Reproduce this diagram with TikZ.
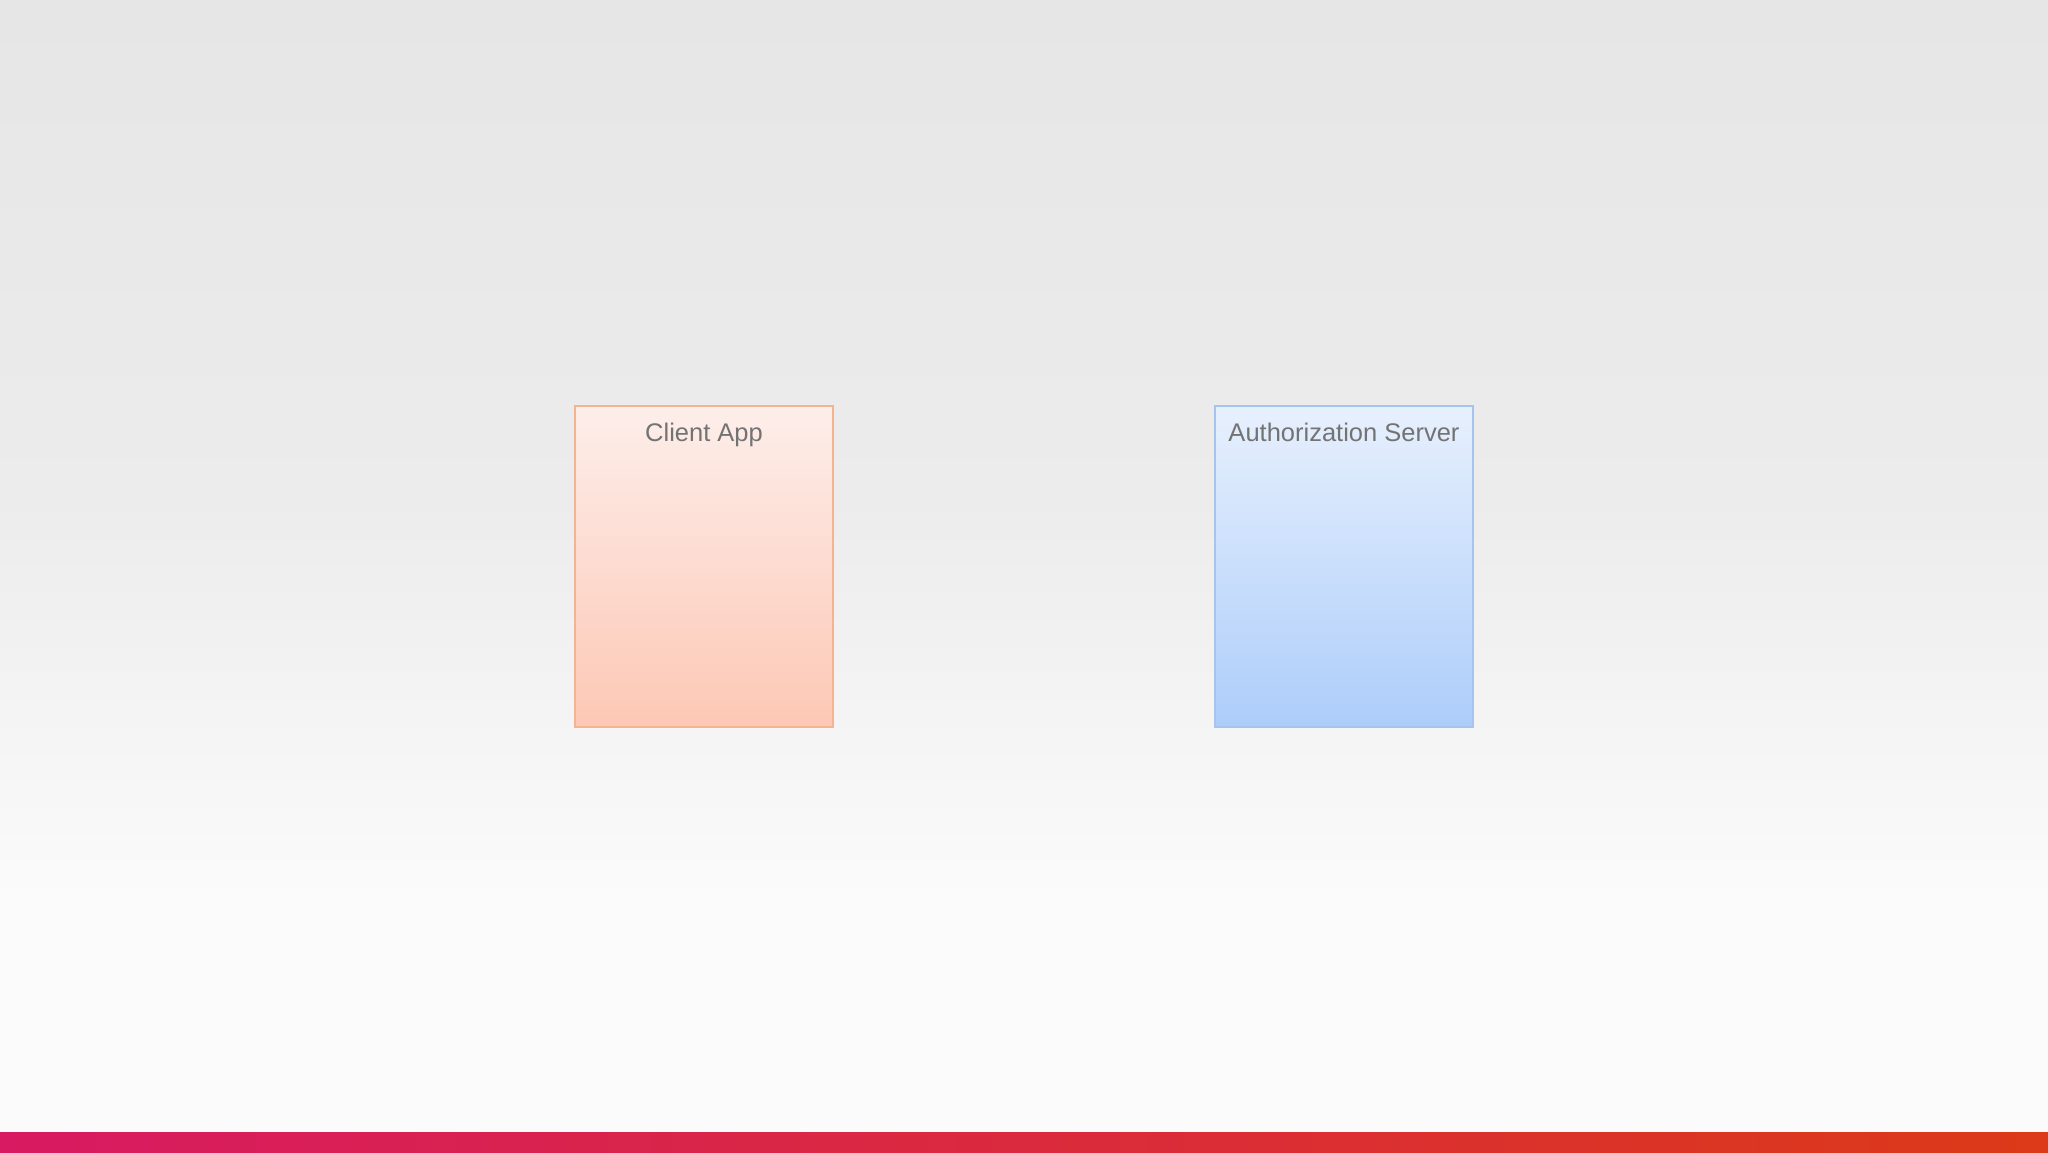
\documentclass[tikz,border=0pt]{standalone}
\usepackage{fontspec}
\setmainfont{Liberation Sans}
\definecolor{txtgray}{HTML}{737373}
\definecolor{cliTop}{HTML}{FDEEEA}
\definecolor{cliBot}{HTML}{FDC8B5}
\definecolor{cliEdge}{HTML}{F4B48F}
\definecolor{srvTop}{HTML}{E7F0FD}
\definecolor{srvBot}{HTML}{ADCDFA}
\definecolor{srvEdge}{HTML}{A5C5EC}
\definecolor{bgA}{HTML}{E6E6E6}
\definecolor{bgB}{HTML}{ECECEC}
\definecolor{bgC}{HTML}{FBFBFC}
\definecolor{barL}{HTML}{D81A62}
\definecolor{barM}{HTML}{E6243F}
\definecolor{barR}{HTML}{DC3A18}
\tikzset{
  panel/.style={draw, line width=1.3pt, minimum width=258pt, minimum height=321pt, inner sep=0pt},
  clientpanel/.style={panel, draw=cliEdge, top color=cliTop, bottom color=cliBot},
  serverpanel/.style={panel, draw=srvEdge, top color=srvTop, bottom color=srvBot},
  paneltitle/.style={text=txtgray, font=\fontsize{25.5pt}{30pt}\selectfont, inner sep=0pt, anchor=base}
}
\begin{document}
\begin{tikzpicture}[x=1pt,y=-1pt]
\useasboundingbox (0,0) rectangle (2048,1152);
% background
\fill[top color=bgA, bottom color=bgB] (0,0) rectangle (2048,500);
\fill[top color=bgB, bottom color=bgC] (0,499) rectangle (2048,900);
\fill[bgC] (0,899) rectangle (2048,1133);
% bottom bar
\fill[left color=barL, middle color=barM, right color=barR] (0,1132) rectangle (2048,1152);
% panels
\node[clientpanel] (client) at (704,566.5) {};
\node[serverpanel] (server) at (1344,566.5) {};
\node[paneltitle] (clientlbl) at ([yshift=-36pt]client.north) {Client App};
\node[paneltitle] (serverlbl) at ([yshift=-36pt]server.north) {Authorization Server};
\end{tikzpicture}
\end{document}
